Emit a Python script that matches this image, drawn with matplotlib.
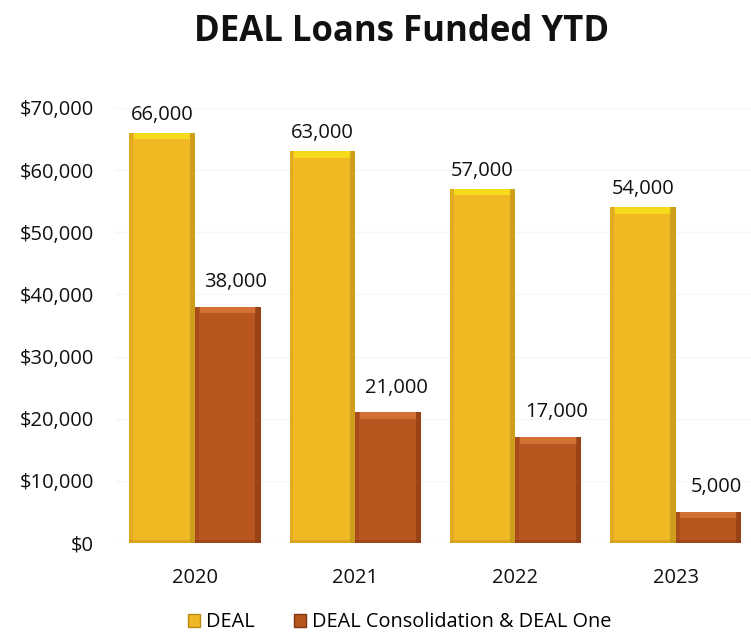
import matplotlib
matplotlib.use("Agg")
import matplotlib.pyplot as plt
import numpy as np
from matplotlib.ticker import FuncFormatter
from matplotlib.patches import Patch

years = ["2020", "2021", "2022", "2023"]
deal = [66000, 63000, 57000, 54000]
consolidation = [38000, 21000, 17000, 5000]
series_names = ["DEAL", "DEAL Consolidation & DEAL One"]

plt.rcParams["font.family"] = ["Open Sans", "DejaVu Sans"]

fig = plt.figure(figsize=(7.51, 6.35), dpi=100)
ax = fig.add_axes([0.153, 0.145, 0.847, 0.685])

x = np.arange(len(years))
w = 0.41

gold = "#F0B823"
gold_top = "#F6E21A"
gold_dark = "#B58A18"
rust = "#B8561F"
rust_top = "#D9773A"
rust_dark = "#7E3613"


def beveled_bars(xpos, vals, base, top, dark):
    ax.bar(xpos, vals, width=w, color=base, edgecolor="none", zorder=3)
    vals = np.asarray(vals, dtype=float)
    cap = np.minimum(1000, vals * 0.3)
    # light cap along the top face
    ax.bar(xpos, cap, bottom=vals - cap, width=w * 0.86, color=top,
           edgecolor="none", alpha=0.85, zorder=4)
    # shaded right and left edges
    ax.bar(xpos + w * 0.46, vals, width=w * 0.08, color=dark,
           edgecolor="none", alpha=0.55, zorder=4)
    ax.bar(xpos - w * 0.47, vals, width=w * 0.06, color=dark,
           edgecolor="none", alpha=0.25, zorder=4)
    # shaded bottom edge
    ax.bar(xpos, np.minimum(500, vals * 0.15), width=w, color=dark,
           edgecolor="none", alpha=0.35, zorder=4)


beveled_bars(x - w / 2, deal, gold, gold_top, gold_dark)
beveled_bars(x + w / 2, consolidation, rust, rust_top, rust_dark)

for xi, v in zip(x - w / 2, deal):
    ax.text(xi, v + 1300, f"{v:,}", ha="center", va="bottom", fontsize=14.5,
            color="#111111", zorder=5)
for xi, v in zip(x + w / 2, consolidation):
    ax.text(xi + 0.05, v + 2400, f"{v:,}", ha="center", va="bottom",
            fontsize=14.5, color="#111111", zorder=5)

ax.set_xlim(-0.5, 3.47)
ax.set_ylim(0, 70000)
ax.set_yticks(np.arange(0, 70001, 10000))
ax.yaxis.set_major_formatter(FuncFormatter(lambda v, p: f"${v:,.0f}"))
ax.set_xticks(x)
ax.set_xticklabels(years)
ax.tick_params(axis="both", length=0, labelsize=14.5, colors="#111111")
ax.tick_params(axis="y", pad=15)
ax.tick_params(axis="x", pad=18)
ax.yaxis.grid(True, color="#F6F6F6", linewidth=1, zorder=0)
for s in ax.spines.values():
    s.set_visible(False)

fig.text(0.535, 0.95, "DEAL Loans Funded YTD", ha="center", va="center",
         fontsize=25, fontweight="bold", color="#111111")

handles = [Patch(facecolor=gold, edgecolor=gold_dark),
           Patch(facecolor=rust, edgecolor=rust_dark)]
fig.legend(handles, series_names, loc="center", bbox_to_anchor=(0.532, 0.02),
           ncol=2, frameon=False, fontsize=14.3, handlelength=0.6,
           handleheight=0.6, handletextpad=0.3, columnspacing=2.0)

fig.savefig("out.png", dpi=100)
